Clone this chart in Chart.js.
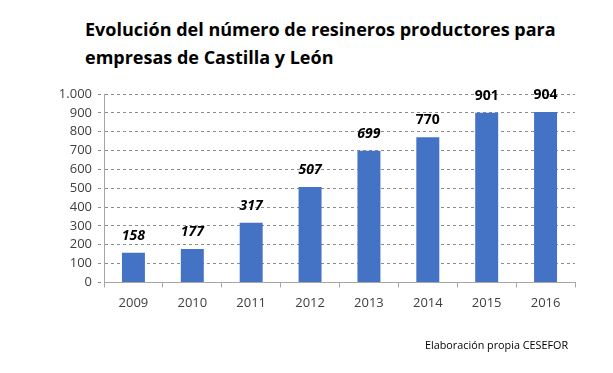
<!DOCTYPE html>
<html>
<head>
<meta charset="utf-8">
<script src="https://cdn.jsdelivr.net/npm/chart.js@4/dist/chart.umd.min.js"></script>
<style>
  html, body { margin: 0; padding: 0; background: #fff; }
  #wrap { position: relative; width: 613px; height: 373px; overflow: hidden; }
  #title {
    position: absolute; left: 85px; top: 15px;
    font-family: "Open Sans", "Noto Sans", sans-serif; font-weight: bold;
    font-size: 18px; line-height: 28px; color: #000;
  }
  #source {
    position: absolute; left: 425px; top: 337px;
    font-family: "Open Sans", "Noto Sans", sans-serif; font-size: 10.8px; color: #000;
  }
  canvas { position: absolute; left: 0; top: 0; }
</style>
</head>
<body>
<div id="wrap">
  <div id="title">Evolución del número de resineros productores para<br>empresas de Castilla y León</div>
  <canvas id="chart" width="613" height="373"></canvas>
  <div id="source">Elaboración propia CESEFOR</div>
</div>
<script>
// Chart data
const years = ['2009', '2010', '2011', '2012', '2013', '2014', '2015', '2016'];
const resineros = [158, 177, 317, 507, 699, 770, 901, 904];

// first five labels are italic in the original
const italicLabel = [true, true, true, true, true, false, false, false];

const fontFamily = '"Open Sans", "Noto Sans", sans-serif';

/**
 * Draw the value above each bar
 */
const valueLabels = {
    id: 'valueLabels',
    afterDatasetsDraw(chart) {
        const ctx = chart.ctx;
        const meta = chart.getDatasetMeta(0);
        ctx.save();
        ctx.fillStyle = '#000';
        ctx.textAlign = 'center';
        ctx.textBaseline = 'bottom';
        meta.data.forEach((bar, i) => {
            ctx.font = (italicLabel[i] ? 'italic ' : '') + 'bold 14px ' + fontFamily;
            ctx.fillText(resineros[i], bar.x, bar.y - 10);
        });
        ctx.restore();
    }
};

new Chart(document.getElementById('chart'), {
    type: 'bar',
    data: {
        labels: years,
        datasets: [{
            data: resineros,
            backgroundColor: '#4472C4',
            categoryPercentage: 1,
            barPercentage: 0.39
        }]
    },
    options: {
        responsive: false,
        animation: false,
        layout: {
            padding: { top: 94, left: 40, right: 38, bottom: 54 }
        },
        plugins: {
            legend: { display: false },
            tooltip: { enabled: false }
        },
        scales: {
            x: {
                offset: true,
                grid: {
                    offset: true,
                    drawOnChartArea: false,
                    drawTicks: true,
                    tickLength: 5,
                    color: '#a6a6a6'
                },
                border: { color: '#a6a6a6' },
                ticks: {
                    color: '#404040',
                    padding: 8,
                    font: { family: fontFamily, size: 13 }
                }
            },
            y: {
                min: 0,
                max: 1000,
                afterFit(scale) { scale.width = 64; },
                grid: {
                    color: '#8c8c8c',
                    tickLength: 6,
                    tickBorderDash: [3, 3]
                },
                border: { color: '#a6a6a6', dash: [3, 3] },
                ticks: {
                    stepSize: 100,
                    color: '#404040',
                    padding: 6,
                    font: { family: fontFamily, size: 13 },
                    callback: v => v >= 1000 ? (v / 1000) + '.' + String(v % 1000).padStart(3, '0') : v
                }
            }
        }
    },
    plugins: [valueLabels]
});
</script>
</body>
</html>
